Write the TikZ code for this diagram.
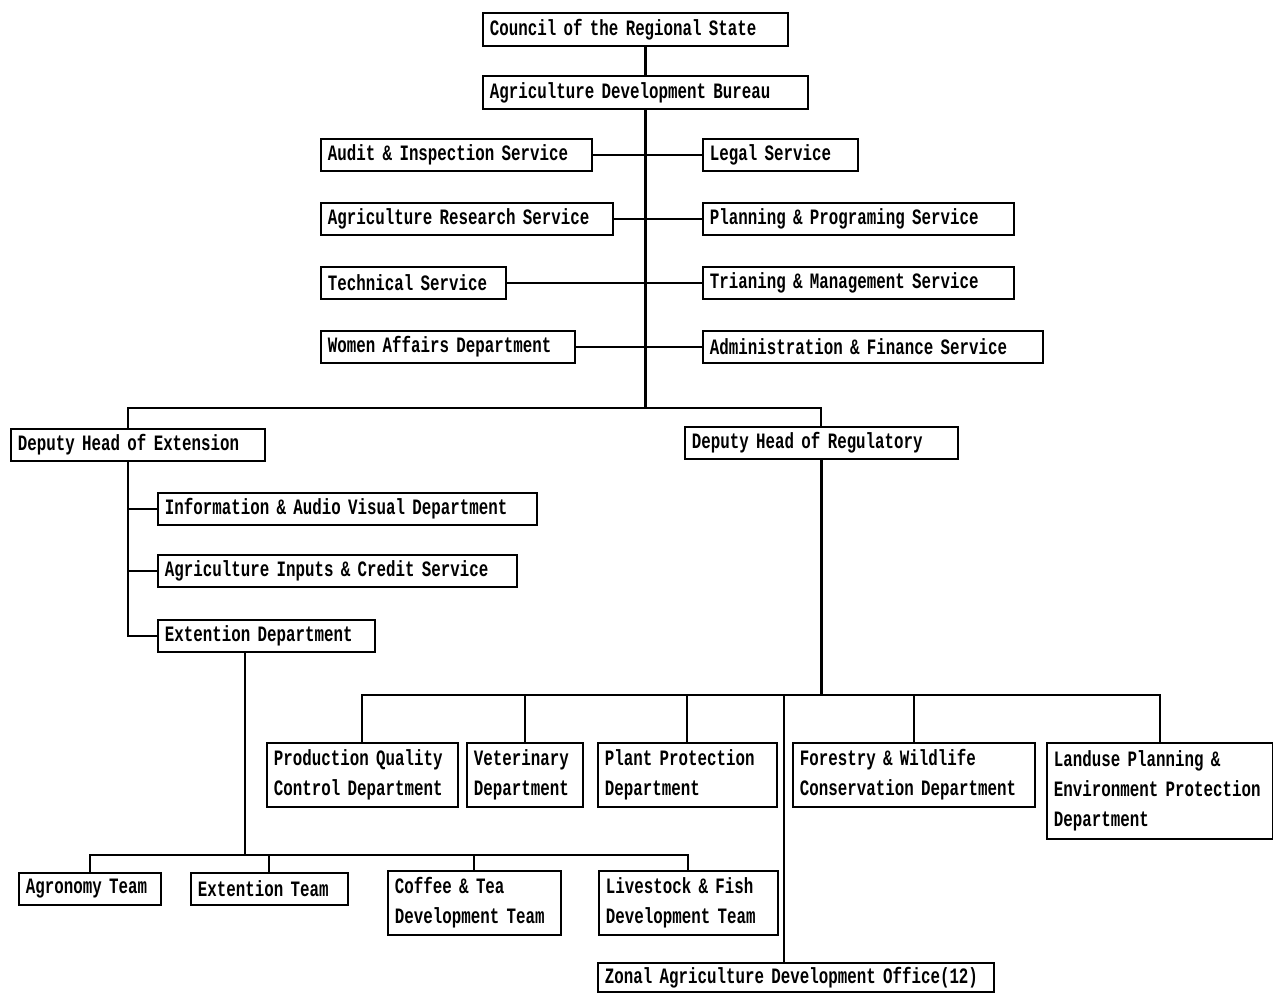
\documentclass[tikz,border=0pt]{standalone}
\usepackage{fontspec}
\usepackage{tikz}
\usetikzlibrary{calc}
\newfontfamily\chartfont[FakeStretch=0.72]{Liberation Mono}
\hyphenpenalty=10000
\exhyphenpenalty=10000
\tikzset{
  unit/.style={draw, line width=1.1pt, anchor=north west, inner xsep=0.14cm, inner ysep=0pt,
    text width=#1, align=left, font=\chartfont\bfseries\fontsize{12.5}{17}\selectfont},
  one/.style={minimum height=0.64cm},
  two/.style={minimum height=1.28cm},
  three/.style={minimum height=1.92cm},
  link/.style={line width=1.1pt},
  trunk/.style={line width=1.6pt}
}

\begin{document}
\begin{tikzpicture}[x=0.02cm, y=-0.02cm]
			%%%%% START %%%%%
			\useasboundingbox (0, 0) rectangle (1273, 992);
			
			\node[unit=5.82cm, minimum height=0.66cm] (council) at (482, 12) {Council of the Regional State};
			\node[unit=6.22cm, minimum height=0.66cm] (bureau) at (482, 75) {Agriculture Development Bureau};
			
			\node[unit=5.14cm, one] (audit) at (320, 138) {Audit \& Inspection Service};
			\node[unit=2.82cm, one] (legal) at (702, 138) {Legal Service};
			\node[unit=5.56cm, one] (research) at (320, 202) {Agriculture Research Service};
			\node[unit=5.94cm, one] (planning) at (702, 202) {Planning \& Programing Service};
			\node[unit=3.42cm, one] (technical) at (320, 266) {Technical Service};
			\node[unit=5.94cm, one] (training) at (702, 266) {Trianing \& Management Service};
			\node[unit=4.80cm, one] (women) at (320, 330) {Women Affairs Department};
			\node[unit=6.52cm, one] (admin) at (702, 330) {Administration \& Finance Service};
			
			\coordinate (split) at (641, 408);
			\coordinate (extline) at (128, 408);
			\node[unit=4.80cm, one] (ext) at (10, 428) {Deputy Head of Extension};
			\node[unit=5.18cm, one] (reg) at (684, 426) {Deputy Head of Regulatory};
			
			\node[unit=7.30cm, one] (info) at (157, 492) {Information \& Audio Visual Department};
			\node[unit=6.90cm, one] (inputs) at (157, 554) {Agriculture Inputs \& Credit Service};
			\node[unit=4.06cm, one] (extdept) at (157, 619) {Extention Department};
			
			\coordinate (regbus) at (829, 695);
			\coordinate (zonalline) at (784, 695);
			\node[unit=3.54cm, two] (quality) at (266, 742) {Production Quality\\Control Department};
			\node[unit=2.04cm, two] (vet) at (466, 742) {Veterinary\\Department};
			\node[unit=3.30cm, two] (plant) at (597, 742) {Plant Protection\\Department};
			\node[unit=4.56cm, two] (forest) at (792, 742) {Forestry \& Wildlife\\Conservation Department};
			\node[unit=4.24cm, three] (landuse) at (1046, 742) {Landuse Planning \&\\Environment Protection\\Department};
			
			\coordinate (teambus) at (245, 855);
			\node[unit=2.56cm, one] (agronomy) at (18, 872) {Agronomy Team};
			\node[unit=2.86cm, one] (extteam) at (190, 872) {Extention Team};
			\node[unit=3.18cm, two] (coffee) at (387, 870) {Coffee \& Tea\\Development Team};
			\node[unit=3.30cm, two] (livestock) at (598, 870) {Livestock \& Fish\\Development Team};
			
			\node[unit=7.64cm, minimum height=0.58cm] (zonal) at (597, 962) {Zonal Agriculture Development Office(12)};
			
			% head of the bureau
			\draw[trunk] (bureau.north) -- (bureau.north |- council.south);
			\draw[trunk] (bureau.south) -- (bureau.south |- split);
			
			% services on both sides
			\draw[link] (audit.east) -- (legal.west);
			\draw[link] (research.east) -- (planning.west);
			\draw[link] (technical.east) -- (training.west);
			\draw[link] (women.east) -- (admin.west);
			
			% two deputies
			\draw[link] (extline |- ext.north) -- (extline) -- (split) -| (reg.north);
			
			% extension side
			\draw[link] (extline |- ext.south) |- (extdept.west);
			\draw[link] (extline |- info.west) -- (info.west);
			\draw[link] (extline |- inputs.west) -- (inputs.west);
			\draw[link] (extdept.south -| teambus) -- (teambus);
			\draw[link] (agronomy.north) |- (livestock.north |- teambus) -- (livestock.north);
			\draw[link] (extteam.north) -- (extteam.north |- teambus);
			\draw[link] (coffee.north) -- (coffee.north |- teambus);
			
			% regulatory side
			\draw[trunk] (reg.south) -- (reg.south |- regbus);
			\draw[link] (quality.north) |- (landuse.north |- regbus) -- (landuse.north);
			\draw[link] (vet.north) -- (vet.north |- regbus);
			\draw[link] (plant.north) -- (plant.north |- regbus);
			\draw[link] (forest.north) -- (forest.north |- regbus);
			\draw[trunk] (zonalline) -- (zonalline |- zonal.north);
			
			%%%%% END %%%%%
\end{tikzpicture}
\end{document}
